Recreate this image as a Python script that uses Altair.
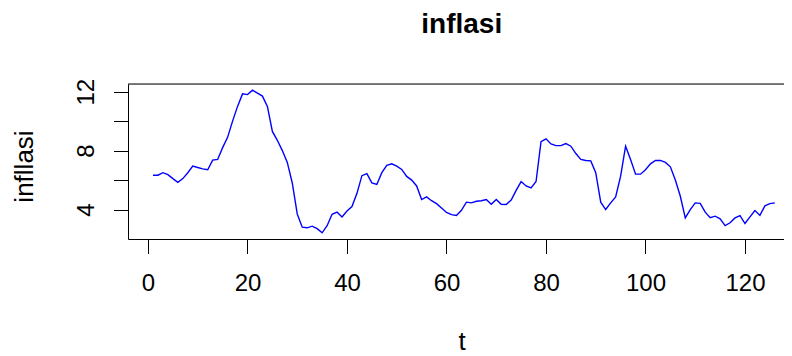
import altair as alt
import pandas as pd

# time index and inflation series
t = list(range(1, 127))
inflasi = [
    6.33, 6.33, 6.50, 6.37, 6.10, 5.85, 6.10, 6.50, 6.95, 6.85,
    6.76, 6.70, 7.35, 7.40, 8.20, 8.90, 10.00, 11.00, 11.85, 11.80,
    12.10, 11.90, 11.70, 11.00, 9.30, 8.70, 8.00, 7.20, 5.80, 3.70,
    2.80, 2.76, 2.87, 2.70, 2.42, 2.90, 3.68, 3.82, 3.50, 3.90,
    4.20, 5.10, 6.30, 6.44, 5.81, 5.70, 6.50, 7.00, 7.10, 6.94,
    6.72, 6.25, 6.00, 5.60, 4.68, 4.86, 4.60, 4.40, 4.10, 3.80,
    3.65, 3.60, 3.95, 4.50, 4.45, 4.56, 4.60, 4.68, 4.35, 4.68,
    4.35, 4.34, 4.65, 5.30, 5.90, 5.60, 5.47, 5.90, 8.60, 8.80,
    8.45, 8.34, 8.34, 8.48, 8.30, 7.80, 7.40, 7.33, 7.30, 6.50,
    4.50, 4.00, 4.45, 4.85, 6.26, 8.30, 7.40, 6.40, 6.40, 6.70,
    7.10, 7.33, 7.33, 7.20, 6.90, 6.00, 4.90, 3.43, 4.00, 4.45,
    4.42, 3.82, 3.45, 3.55, 3.37, 2.91, 3.10, 3.43, 3.59, 3.05,
    3.50, 3.93, 3.60, 4.25, 4.40, 4.45,
]
x_ticks = [0, 20, 40, 60, 80, 100, 120]
y_ticks = [4, 6, 8, 10, 12]
title_text = ["inflasi"]

df = pd.DataFrame({"t": t, "inflasi": inflasi})

W, H = 656, 155
FONT = "Liberation Sans"

line = alt.Chart(df).mark_line(color="#0000FF", strokeWidth=1.4).encode(
    x=alt.X(
        "t:Q",
        scale=alt.Scale(domain=[-4.02, 127.84], nice=False, zero=False),
        axis=alt.Axis(
            values=x_ticks, title="t", grid=False,
            domainColor="black", tickColor="black", tickSize=14.5,
            labelPadding=18, labelFontSize=24, labelBaseline="top",
            labelFont=FONT, labelColor="black", labelFlush=False,
            labelOverlap=False,
            titleFont=FONT, titleFontSize=26, titleFontWeight="normal",
            titleColor="black", titleX=333.7, titleY=110,
            titleAlign="center", titleBaseline="alphabetic",
        ),
    ),
    y=alt.Y(
        "inflasi:Q",
        scale=alt.Scale(domain=[2.0, 12.52], nice=False, zero=False),
        axis=alt.Axis(
            values=y_ticks, title="infllasi", grid=False,
            domainColor="black", tickColor="black", tickSize=14.5,
            labelPadding=20, labelFontSize=24, labelAngle=270,
            labelAlign="center", labelBaseline="alphabetic",
            labelFont=FONT, labelColor="black", labelOverlap=False,
            labelExpr="datum.value % 4 == 0 ? datum.label : ''",
            titleFont=FONT, titleFontSize=26, titleFontWeight="normal",
            titleColor="black", titleAngle=270, titleX=-95.3, titleY=82,
            titleAlign="center", titleBaseline="alphabetic",
        ),
    ),
)

top_rule = alt.Chart(pd.DataFrame({"a": [0]})).mark_rule(
    color="black", strokeWidth=1
).encode(x=alt.value(0), x2=alt.value(W), y=alt.value(0))

title = alt.Chart(pd.DataFrame({"label": title_text})).mark_text(
    font=FONT, fontSize=28, fontWeight="bold", color="black",
    align="center", baseline="alphabetic",
).encode(text="label:N", x=alt.value(333.7), y=alt.value(-51))

chart = alt.layer(line, top_rule, title).properties(
    width=W,
    height=H,
    autosize=alt.AutoSizeParams(type="none"),
    padding={"left": 120, "top": 76, "right": 0, "bottom": 117},
).configure_view(stroke=None).configure(background="white")

chart.save("out.html", embed_options={"renderer": "svg", "actions": False})
